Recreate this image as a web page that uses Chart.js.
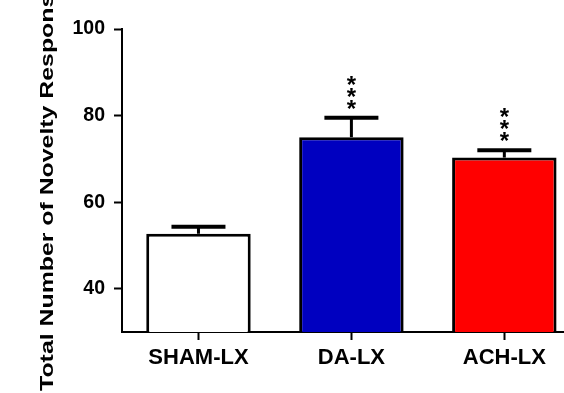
<!DOCTYPE html>
<html>
<head>
<meta charset="utf-8">
<script src="https://cdn.jsdelivr.net/npm/chart.js@4.4.1/dist/chart.umd.min.js"></script>
<style>
  html, body { margin: 0; padding: 0; background: #fff; overflow: hidden; width: 564px; height: 393px; }
  #wrap { position: absolute; left: 0; top: 0; width: 600px; height: 393px; }
</style>
</head>
<body>
<div id="wrap"><canvas id="c" width="600" height="393"></canvas></div>
<script>
const categories = ['SHAM-LX', 'DA-LX', 'ACH-LX'];
const means = [52.7, 75.0, 70.3];
const sem = [1.6, 4.5, 1.7];
const significance = ['', '***', '***'];
const yTicks = [40, 60, 80, 100];
const barColors = ['#FFFFFF', '#0000C0', '#FF0000'];
const yTitle = 'Total Number of Novelty Responses';

const FONT = "'Liberation Sans', Arial, Helvetica, sans-serif";

const errorBarPlugin = {
  id: 'errorBars',
  afterDatasetsDraw(chart) {
    const ctx = chart.ctx;
    const meta = chart.getDatasetMeta(0);
    const yScale = chart.scales.y;
    ctx.save();
    ctx.strokeStyle = '#000';
    ctx.fillStyle = '#000';
    meta.data.forEach((bar, i) => {
      const x = bar.x;
      const yBar = bar.y;
      const yTop = yScale.getPixelForValue(means[i] + sem[i]);
      ctx.lineWidth = 3;
      ctx.beginPath();
      ctx.moveTo(x, yBar);
      ctx.lineTo(x, yTop);
      ctx.stroke();
      ctx.lineWidth = 4;
      ctx.beginPath();
      ctx.moveTo(x - 27, yTop);
      ctx.lineTo(x + 27, yTop);
      ctx.stroke();
      const stars = significance[i];
      const fs = 24;
      ctx.font = 'bold ' + fs + 'px ' + FONT;
      ctx.textAlign = 'center';
      ctx.textBaseline = 'alphabetic';
      for (let k = 0; k < stars.length; k++) {
        const cy = yTop - 15 - k * 12;
        ctx.fillText(stars[k], x, cy + 0.575 * fs);
      }
    });
    ctx.restore();
  }
};

const titlePlugin = {
  id: 'yTitle',
  afterDraw(chart) {
    const ctx = chart.ctx;
    const area = chart.chartArea;
    const cy = (area.top + area.bottom) / 2 - 2;
    ctx.save();
    ctx.translate(52.7, cy);
    ctx.rotate(-Math.PI / 2);
    ctx.scale(1.42, 1);
    ctx.font = 'bold 17.5px ' + FONT;
    ctx.fillStyle = '#000';
    ctx.textAlign = 'center';
    ctx.textBaseline = 'alphabetic';
    ctx.fillText(yTitle, 0, 0);
    ctx.restore();
  }
};

new Chart(document.getElementById('c'), {
  type: 'bar',
  data: {
    labels: categories,
    datasets: [{
      data: means,
      backgroundColor: barColors,
      borderColor: '#000',
      borderWidth: 3,
      borderSkipped: 'start',
      barPercentage: 0.683,
      categoryPercentage: 1.0
    }]
  },
  options: {
    responsive: false,
    animation: false,
    devicePixelRatio: 1,
    layout: { padding: { top: 29, right: 19.2, left: 0, bottom: 0 } },
    plugins: { legend: { display: false }, tooltip: { enabled: false } },
    scales: {
      x: {
        offset: true,
        grid: { display: true, drawOnChartArea: false, drawTicks: true, tickLength: 8, tickWidth: 2, tickColor: '#000', offset: false },
        border: { display: true, color: '#000', width: 2 },
        ticks: { color: '#000', padding: 5, font: { family: FONT, size: 22, weight: 'bold' }, maxRotation: 0 },
        afterFit(scale) { scale.height = 61; }
      },
      y: {
        min: 30,
        max: 100,
        afterBuildTicks(scale) { scale.ticks = yTicks.map(v => ({ value: v })); },
        grid: { display: true, drawOnChartArea: false, drawTicks: true, tickLength: 8, tickWidth: 2, tickColor: '#000' },
        border: { display: true, color: '#000', width: 2 },
        ticks: { color: '#000', padding: 9, font: { family: FONT, size: 19.5, weight: 'bold' } },
        title: { display: false },
        afterFit(scale) { scale.width = 122; }
      }
    }
  },
  plugins: [errorBarPlugin, titlePlugin]
});
</script>
</body>
</html>
